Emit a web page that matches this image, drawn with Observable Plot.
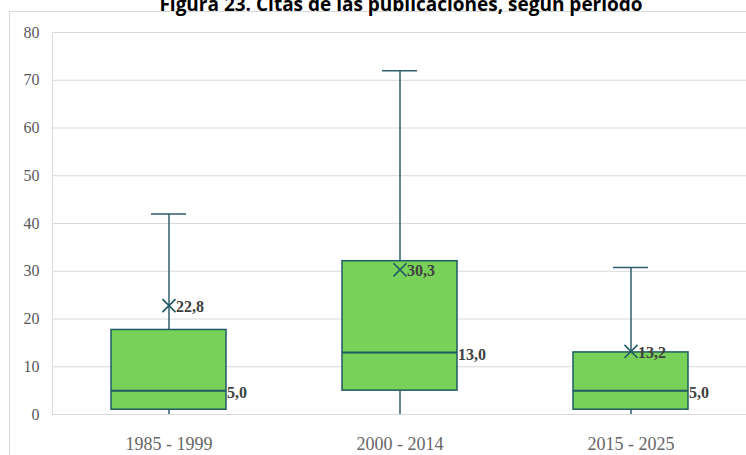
<!DOCTYPE html>
<html>
<head>
<meta charset="utf-8">
<script src="https://cdn.jsdelivr.net/npm/d3@7"></script>
<script src="https://cdn.jsdelivr.net/npm/@observablehq/plot@0.6"></script>
<style>
  html, body { margin: 0; padding: 0; background: #fff; overflow: hidden; }
  #wrap { position: relative; width: 746px; height: 455px; }
  #frame { position: absolute; left: 9px; top: 11px; width: 760px; height: 460px; border: 1px solid #d9d9d9; box-sizing: border-box; }
  #title { position: absolute; left: 28px; width: 746px; top: -9px; text-align: center; font-family: "Open Sans", sans-serif; font-weight: bold; font-size: 19px; color: #000; white-space: nowrap; }
  #chart { position: absolute; left: 0; top: 0; }
</style>
</head>
<body>
<div id="wrap">
  <div id="frame"></div>
  <div id="chart"></div>
  <div id="title">Figura 23. Citas de las publicaciones, según período</div>
</div>
<script>
const periods = ["1985 - 1999", "2000 - 2014", "2015 - 2025"];
const mins    = [0, 0, 0];
const q1s     = [1, 5, 1];
const medians = [5.0, 13.0, 5.0];
const q3s     = [17.7, 32.1, 13.0];
const maxs    = [42, 72, 30.8];
const means   = [22.8, 30.3, 13.2];
const yTicks  = [0, 10, 20, 30, 40, 50, 60, 70, 80];

const data = periods.map((p, i) => ({
  period: p, min: mins[i], q1: q1s[i], median: medians[i], q3: q3s[i], max: maxs[i], mean: means[i]
}));
const fmt = v => d3.format(".1f")(v).replace(".", ",");

const boxFill = "#78d25a";
const boxStroke = "#1f5963";
const whisker = "#2e5f6e";

const chart = Plot.plot({
  width: 746,
  height: 455,
  marginLeft: 52,
  marginRight: 0,
  marginTop: 32,
  marginBottom: 41,
  style: { background: "transparent", fontFamily: "Liberation Serif", fontSize: "16px", color: "#595959" },
  x: { domain: periods, padding: 0, label: null },
  y: { domain: [0, 80], label: null },
  marks: [
    Plot.gridY(yTicks, { stroke: "#d9d9d9", strokeOpacity: 1 }),
    Plot.frame({ anchor: "left", stroke: "#d9d9d9" }),
    Plot.axisY({ ticks: yTicks, tickSize: 0, tickPadding: 13, fontSize: 16, fill: "#595959", label: null }),
    Plot.axisX({ tickSize: 0, tickPadding: 23, fontSize: 18, fill: "#666666", label: null }),
    Plot.ruleX(data, { x: "period", y1: "q3", y2: "max", stroke: whisker, strokeWidth: 1.5 }),
    Plot.ruleX(data, { x: "period", y1: "min", y2: "q1", stroke: whisker, strokeWidth: 1.5 }),
    Plot.tickY(data, { x: "period", y: "max", stroke: whisker, strokeWidth: 1.5, insetLeft: 98, insetRight: 98 }),
    Plot.barY(data, { x: "period", y1: "q1", y2: "q3", fill: boxFill, stroke: boxStroke, strokeWidth: 1.5, insetLeft: 58, insetRight: 58 }),
    Plot.tickY(data, { x: "period", y: "median", stroke: boxStroke, strokeWidth: 2, insetLeft: 58, insetRight: 58 }),
    Plot.dot(data, { x: "period", y: "mean", symbol: "times", r: 6, stroke: boxStroke, strokeWidth: 1.6 }),
    Plot.text(data, { x: "period", y: "mean", text: d => fmt(d.mean), dx: 7, dy: 1, textAnchor: "start", fontWeight: "bold", fontSize: 16, fill: "#404040" }),
    Plot.text(data, { x: "period", y: "median", text: d => fmt(d.median), dx: 58, dy: 2, textAnchor: "start", fontWeight: "bold", fontSize: 16, fill: "#404040" })
  ]
});
document.getElementById("chart").appendChild(chart);
</script>
</body>
</html>
